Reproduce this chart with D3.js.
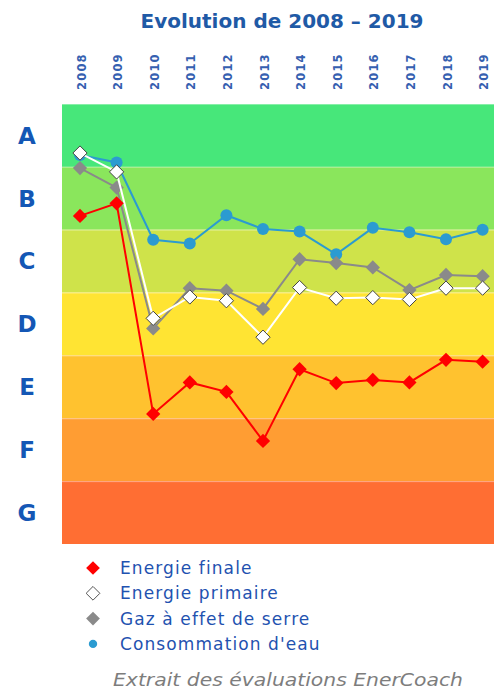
<!DOCTYPE html>
<html>
<head>
<meta charset="utf-8">
<script src="https://cdn.jsdelivr.net/npm/d3@7"></script>
<style>
  body { margin: 0; background: #fff; }
  svg { display: block; }
</style>
</head>
<body>
<div id="chart"></div>
<script>
// Years on the x axis
const years = ["2008", "2009", "2010", "2011", "2012", "2013", "2014", "2015", "2016", "2017", "2018", "2019"];

// Rating classes, top to bottom
const classes = ["A", "B", "C", "D", "E", "F", "G"];
const classColors = ["#47e77a", "#8ae65c", "#cfe34a", "#ffe433", "#ffc22f", "#ff9d33", "#ff6e33"];

// Values on a 0 (top of A) .. 7 (bottom of G) scale
const energieFinale = [1.78, 1.58, 4.93, 4.43, 4.58, 5.36, 4.22, 4.44, 4.39, 4.43, 4.07, 4.10];
const energiePrimaire = [0.78, 1.08, 3.41, 3.07, 3.13, 3.71, 2.92, 3.09, 3.08, 3.11, 2.93, 2.93];
const gazSerre = [1.02, 1.33, 3.57, 2.93, 2.97, 3.26, 2.47, 2.53, 2.60, 2.96, 2.72, 2.74];
const consoEau = [0.81, 0.93, 2.16, 2.22, 1.77, 1.99, 2.03, 2.39, 1.97, 2.04, 2.15, 2.00];

const seriesNames = ["Energie finale", "Energie primaire", "Gaz à effet de serre", "Consommation d'eau"];

const width = 494, height = 691;
const plot = { left: 62, right: 494, top: 104, bottom: 544 };

const svg = d3.select("#chart").append("svg")
    .attr("width", width)
    .attr("height", height);

// Scales
const x = d3.scalePoint().domain(years).range([80, 482.6]);
const y = d3.scaleLinear().domain([0, 7]).range([plot.top, plot.bottom]);
const band = d3.scaleBand().domain(classes).range([plot.top, plot.bottom]);

// Title
svg.append("text")
    .attr("x", 282)
    .attr("y", 28)
    .attr("text-anchor", "middle")
    .attr("font-family", "'DejaVu Sans', Verdana, sans-serif")
    .attr("font-weight", "bold")
    .attr("font-size", 20)
    .attr("fill", "#1f5aa6")
    .text("Evolution de 2008 – 2019");

// Class bands
svg.append("g").selectAll("rect")
    .data(classes)
    .join("rect")
    .attr("x", plot.left)
    .attr("y", d => band(d))
    .attr("width", plot.right - plot.left)
    .attr("height", band.bandwidth())
    .attr("fill", (d, i) => classColors[i]);

// faint separators between bands
svg.append("g").selectAll("line")
    .data(classes)
    .join("line")
    .attr("x1", plot.left)
    .attr("x2", plot.right)
    .attr("y1", d => band(d) + 0.5)
    .attr("y2", d => band(d) + 0.5)
    .attr("stroke", "#fff")
    .attr("stroke-opacity", 0.35);

// Class letters on the left
const leftAxis = d3.axisLeft(band).tickSize(0).tickPadding(0);
svg.append("g")
    .attr("transform", `translate(27,0)`)
    .call(leftAxis)
    .call(g => g.select(".domain").remove())
    .selectAll("text")
    .attr("text-anchor", "middle")
    .attr("dy", "0.36em")
    .attr("font-family", "'DejaVu Sans', Verdana, sans-serif")
    .attr("font-weight", "bold")
    .attr("font-size", 23)
    .attr("fill", "#1457b5");

// Year labels on top, rotated
const topAxis = d3.axisTop(x).tickSize(0).tickPadding(0);
svg.append("g")
    .attr("transform", `translate(0,90)`)
    .call(topAxis)
    .call(g => g.select(".domain").remove())
    .selectAll("text")
    .attr("transform", "translate(5,0) rotate(-90)")
    .attr("text-anchor", "start")
    .attr("x", 0)
    .attr("y", 0)
    .attr("dy", 0)
    .attr("font-family", "'DejaVu Sans', Verdana, sans-serif")
    .attr("font-weight", "bold")
    .attr("font-size", 11.5)
    .attr("letter-spacing", 1.2)
    .attr("fill", "#3560b0");

const line = d3.line()
    .x((d, i) => x(years[i]))
    .y(d => y(d));

const diamond = d3.symbol().type(d3.symbolDiamond2);

const series = [
    { name: seriesNames[3], values: consoEau, color: "#2b9bd1", marker: "circle" },
    { name: seriesNames[2], values: gazSerre, color: "#8a8a8a", marker: "diamond", fill: "#8a8a8a" },
    { name: seriesNames[1], values: energiePrimaire, color: "#ffffff", marker: "diamond", fill: "#ffffff", stroke: "#444" },
    { name: seriesNames[0], values: energieFinale, color: "#ff0000", marker: "diamond", fill: "#ff0000" }
];

series.forEach(s => {
    const g = svg.append("g");
    g.append("path")
        .datum(s.values)
        .attr("d", line)
        .attr("fill", "none")
        .attr("stroke", s.color)
        .attr("stroke-width", 2);

    if (s.marker === "circle") {
        g.selectAll("circle")
            .data(s.values)
            .join("circle")
            .attr("cx", (d, i) => x(years[i]))
            .attr("cy", d => y(d))
            .attr("r", 6)
            .attr("fill", s.color);
    } else {
        g.selectAll("path.m")
            .data(s.values)
            .join("path")
            .attr("class", "m")
            .attr("transform", (d, i) => `translate(${x(years[i])},${y(d)})`)
            .attr("d", diamond.size(130))
            .attr("fill", s.fill)
            .attr("stroke", s.stroke || "none")
            .attr("stroke-width", 1);
    }
});

// Legend
const legendItems = [
    { name: seriesNames[0], marker: "diamond", fill: "#ff0000", stroke: "none" },
    { name: seriesNames[1], marker: "diamond", fill: "#ffffff", stroke: "#555" },
    { name: seriesNames[2], marker: "diamond", fill: "#8a8a8a", stroke: "none" },
    { name: seriesNames[3], marker: "circle", fill: "#2b9bd1", stroke: "none" }
];

const legend = svg.append("g").attr("transform", "translate(93,568)");
const rows = legend.selectAll("g")
    .data(legendItems)
    .join("g")
    .attr("transform", (d, i) => `translate(0,${i * 25.3})`);

rows.append("path")
    .attr("d", d => d.marker === "circle"
        ? d3.symbol().type(d3.symbolCircle).size(55)()
        : d3.symbol().type(d3.symbolDiamond2).size(120)())
    .attr("fill", d => d.fill)
    .attr("stroke", d => d.stroke);

rows.append("text")
    .attr("x", 27)
    .attr("dy", "0.35em")
    .attr("font-family", "'DejaVu Sans', Verdana, sans-serif")
    .attr("font-size", 17)
    .attr("letter-spacing", 1.1)
    .attr("fill", "#1f52b0")
    .text(d => d.name);

// Caption
svg.append("text")
    .attr("x", 288)
    .attr("y", 686)
    .attr("text-anchor", "middle")
    .attr("font-family", "'DejaVu Sans', sans-serif")
    .attr("font-style", "italic")
    .attr("font-size", 18)
    .attr("textLength", 350)
    .attr("lengthAdjust", "spacingAndGlyphs")
    .attr("fill", "#7d7d7d")
    .text("Extrait des évaluations EnerCoach");
</script>
</body>
</html>
